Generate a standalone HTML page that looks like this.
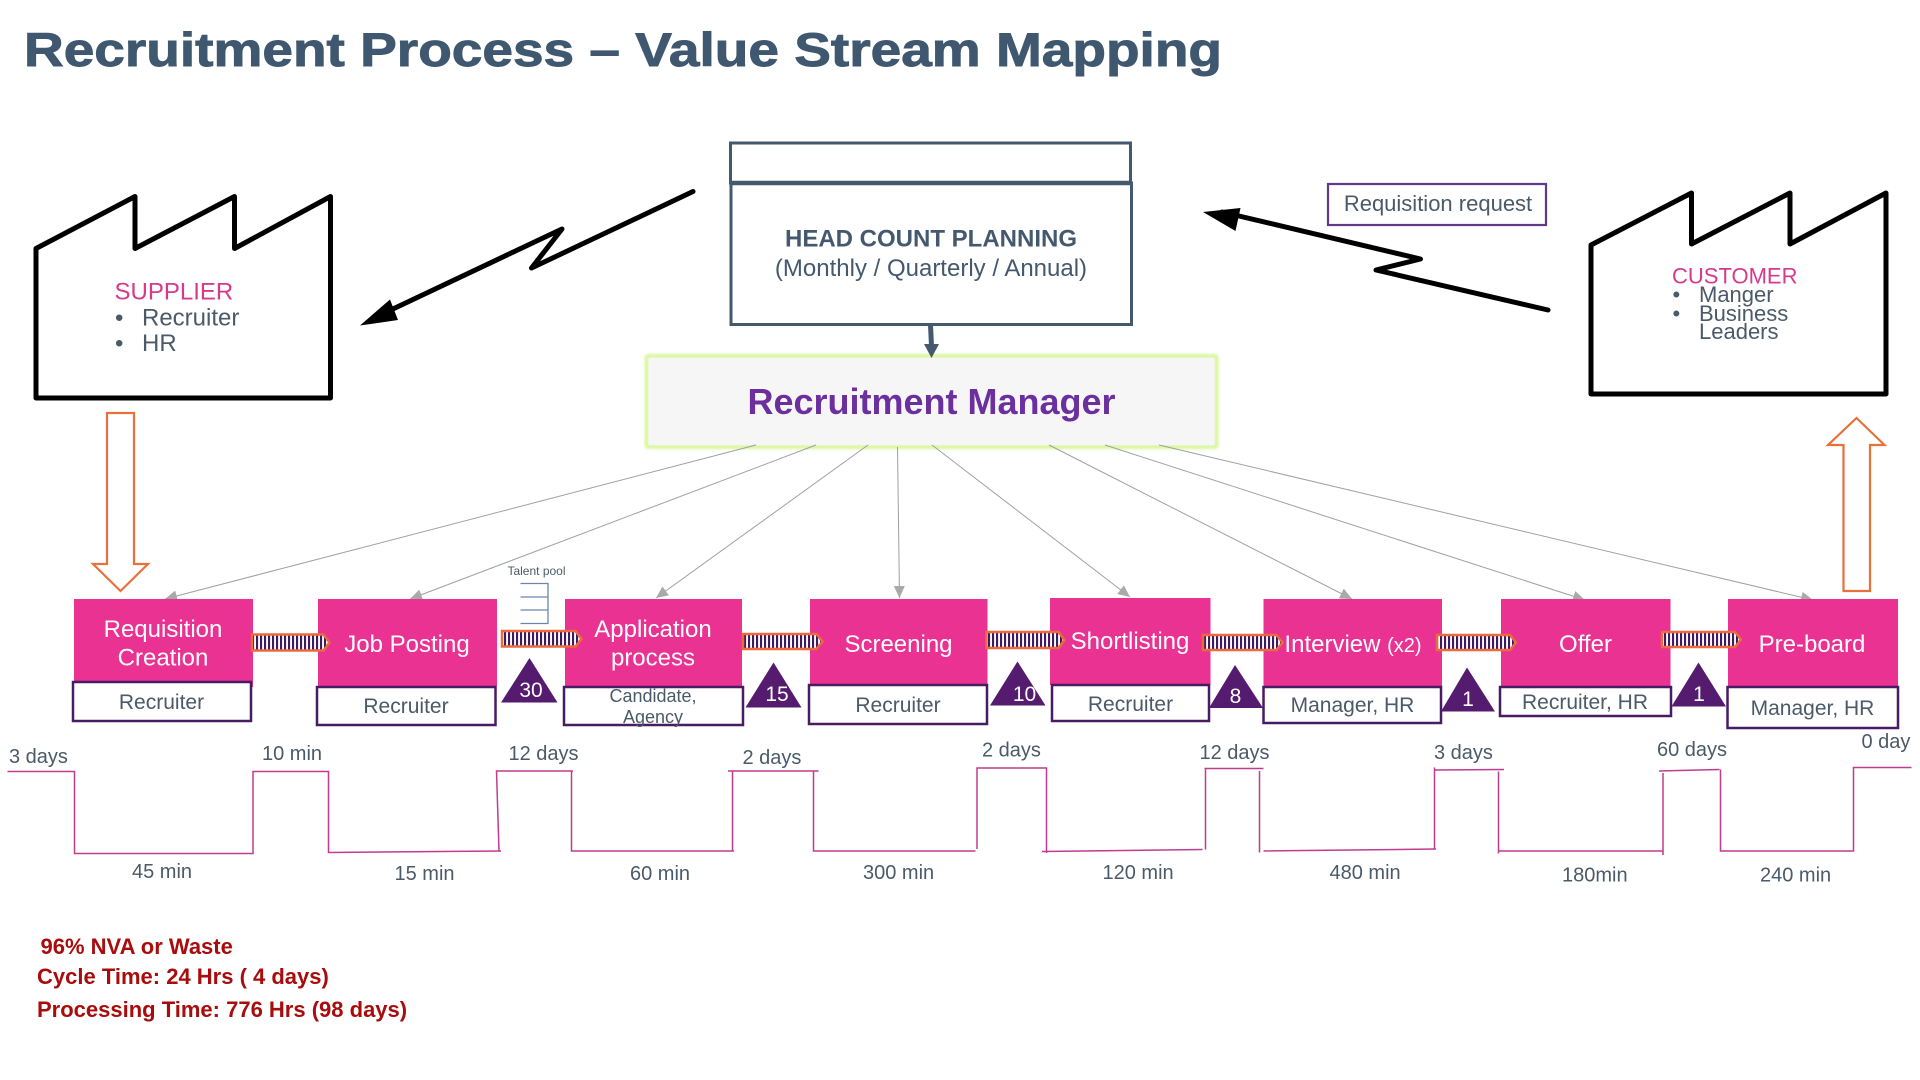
<!DOCTYPE html>
<html lang="en">
<head>
<meta charset="utf-8">
<title>Recruitment Process – Value Stream Mapping</title>
<style>
html,body{margin:0;padding:0;background:#fff;width:1920px;height:1080px;overflow:hidden}
svg{display:block;font-family:"Liberation Sans",Arial,sans-serif}
.f{fill:none;stroke:#000;stroke-width:5;stroke-linejoin:round;stroke-linecap:round}
.bolt{fill:none;stroke:#000;stroke-width:5;stroke-linejoin:round;stroke-linecap:round}
.g{stroke:#a0a0a0;stroke-width:1;fill:none;marker-end:url(#gh)}
.pink{fill:#ea3292}
.sub{fill:#fff;stroke:#471c63;stroke-width:2.5}
.pt{fill:#fff;font-size:24px;text-anchor:middle}
.st{fill:#4a5a68;font-size:21px;text-anchor:middle}
.tl{fill:#4a5a68;font-size:20px}
.push{fill:url(#st);stroke:#ec6a3c;stroke-width:2.5}
.tri{fill:#541b6e}
.tn{fill:#fff;font-size:21px;text-anchor:middle}
.o{fill:#fff;stroke:#e8703a;stroke-width:2.2}
.w{fill:none;stroke:#c03c8e;stroke-width:1.5}
.red{fill:#a80c0c;font-size:22px;font-weight:bold}
.fac{fill:#4a5a68;font-size:24px}
.cus{fill:#4a5a68;font-size:22px}
</style>
</head>
<body>
<svg width="1920" height="1080" viewBox="0 0 1920 1080" xmlns="http://www.w3.org/2000/svg">
<defs>
<pattern id="st" patternUnits="userSpaceOnUse" width="4" height="10">
<rect width="4" height="10" fill="#fff"/>
<rect width="2.1" height="10" fill="#3f1a5e"/>
</pattern>
<marker id="gh" markerUnits="userSpaceOnUse" markerWidth="14" markerHeight="12" refX="12" refY="5.5" orient="auto">
<path d="M0,0 L12,5.5 L0,11 Z" fill="#a9a9a9"/>
</marker>
<filter id="blur" x="-5%" y="-15%" width="110%" height="130%"><feGaussianBlur stdDeviation="1.3"/></filter>
</defs>

<text x="24" y="66" font-size="47" font-weight="bold" fill="#3f5870" stroke="#3f5870" stroke-width="0.9" textLength="1198" lengthAdjust="spacingAndGlyphs">Recruitment Process – Value Stream Mapping</text>

<!-- Supplier factory -->
<path class="f" d="M36,248.5 L135,196.5 L135,248.5 L234.5,196.5 L234.5,248.5 L330.5,196.5 L330.5,398 L36,398 Z"/>
<text x="114.5" y="299.5" font-size="24" fill="#d63a8c">SUPPLIER</text>
<text x="115" y="325.5" class="fac">•</text><text x="142" y="325.5" class="fac">Recruiter</text>
<text x="115" y="351" class="fac">•</text><text x="142" y="351" class="fac">HR</text>

<!-- Customer factory -->
<path class="f" d="M1591,245 L1691.5,193 L1691.5,244 L1790,193 L1790,244 L1886,193 L1886,394 L1591,394 Z"/>
<text x="1672" y="283.5" font-size="22" fill="#d63a8c">CUSTOMER</text>
<text x="1672.5" y="302" class="cus">•</text><text x="1699" y="302" class="cus">Manger</text>
<text x="1672.5" y="321" class="cus">•</text><text x="1699" y="321" class="cus">Business</text>
<text x="1699" y="339" class="cus">Leaders</text>

<!-- Head count planning -->
<rect x="730.5" y="143" width="400" height="40" fill="#fff" stroke="#44596e" stroke-width="3"/>
<rect x="731" y="183" width="400.5" height="141.5" fill="#fff" stroke="#44596e" stroke-width="3"/>
<line x1="730" y1="183" x2="1132" y2="183" stroke="#44596e" stroke-width="4.5"/>
<text x="931" y="246.5" font-size="24" font-weight="bold" fill="#44596e" text-anchor="middle">HEAD COUNT PLANNING</text>
<text x="931" y="276" font-size="24" fill="#44596e" text-anchor="middle">(Monthly / Quarterly / Annual)</text>
<line x1="930.5" y1="325" x2="931.5" y2="346" stroke="#44596e" stroke-width="5"/>

<!-- Recruitment manager -->
<rect x="646.5" y="356" width="570" height="91" rx="2" fill="#f6f6f6" stroke="#d9f79a" stroke-width="4" filter="url(#blur)"/>
<rect x="648.5" y="358" width="566" height="87" fill="#f6f6f6"/>
<path d="M924,344 L939,344 L931.5,358 Z" fill="#44596e"/>
<text x="931.5" y="414" font-size="36" font-weight="bold" fill="#6b2f9e" text-anchor="middle">Recruitment Manager</text>

<!-- Lightning arrows -->
<path class="bolt" d="M693,191.5 L531.5,268 L562,229 L378,316"/>
<path d="M360,325.5 L390,299.5 L398,320 Z" fill="#000"/>
<path class="bolt" d="M1548,310 L1376,270 L1420.5,259 L1222,212"/>
<path d="M1203,212 L1240.5,208 L1235.5,231 Z" fill="#000"/>

<!-- Requisition request -->
<rect x="1328" y="184" width="218" height="41" fill="#fff" stroke="#5f3a8a" stroke-width="2.2"/>
<text x="1438" y="211" font-size="22" fill="#4a5a68" text-anchor="middle">Requisition request</text>

<!-- Orange arrows -->
<path class="o" d="M107,413 L134,413 L134,564 L148,564 L120.5,591 L93,564 L107,564 Z"/>
<path class="o" d="M1856.5,418 L1884.5,445 L1870,445 L1870,591 L1843.5,591 L1843.5,445 L1828,445 Z"/>

<!-- Manager lines -->
<line class="g" x1="756" y1="445" x2="165" y2="599"/>
<line class="g" x1="816" y1="445" x2="410" y2="599"/>
<line class="g" x1="868" y1="445" x2="656" y2="598"/>
<line class="g" x1="897.5" y1="447" x2="899.5" y2="598"/>
<line class="g" x1="932" y1="445" x2="1130" y2="597"/>
<line class="g" x1="1049" y1="445" x2="1352" y2="599"/>
<line class="g" x1="1105" y1="445" x2="1585" y2="600"/>
<line class="g" x1="1159" y1="445" x2="1813" y2="600"/>

<!-- Talent pool -->
<text x="536.5" y="575" font-size="12" fill="#4a5a68" text-anchor="middle">Talent pool</text>
<path d="M520.5,583.5 H548 V623.5 H520.5 M520.5,597 H548 M520.5,610 H548" fill="none" stroke="#6a86ad" stroke-width="1.3"/>

<!-- Process boxes -->
<rect class="pink" x="74" y="599" width="179" height="88"/>
<rect class="pink" x="318" y="599" width="179" height="87"/>
<rect class="pink" x="565" y="599" width="177" height="87"/>
<rect class="pink" x="810" y="599" width="177.5" height="86"/>
<rect class="pink" x="1050" y="598" width="160.5" height="87"/>
<rect class="pink" x="1263.5" y="599" width="178.5" height="87"/>
<rect class="pink" x="1501" y="599" width="169.5" height="87"/>
<rect class="pink" x="1728" y="599" width="170" height="87"/>

<rect class="sub" x="73" y="682" width="178" height="39"/>
<rect class="sub" x="317" y="687" width="178.5" height="38"/>
<rect class="sub" x="564" y="687" width="179" height="38"/>
<rect class="sub" x="809" y="685" width="178" height="39"/>
<rect class="sub" x="1052" y="685" width="157" height="36"/>
<rect class="sub" x="1263.5" y="687" width="177.5" height="36"/>
<rect class="sub" x="1500" y="687" width="171" height="29"/>
<rect class="sub" x="1727.5" y="687" width="170.5" height="41"/>

<text class="pt" x="163" y="637">Requisition</text>
<text class="pt" x="163" y="665.5">Creation</text>
<text class="pt" x="407" y="652">Job Posting</text>
<text class="pt" x="653" y="637">Application</text>
<text class="pt" x="653" y="665.5">process</text>
<text class="pt" x="898.5" y="652">Screening</text>
<text class="pt" x="1130" y="649">Shortlisting</text>
<text class="pt" x="1353" y="652">Interview <tspan font-size="20">(x2)</tspan></text>
<text class="pt" x="1585.5" y="652">Offer</text>
<text class="pt" x="1812" y="652">Pre-board</text>

<text class="st" x="161.5" y="709">Recruiter</text>
<text class="st" x="406" y="713">Recruiter</text>
<text class="st" x="653" y="702" style="font-size:18px">Candidate,</text>
<text class="st" x="653" y="723" style="font-size:18px">Agency</text>
<text class="st" x="898" y="712">Recruiter</text>
<text class="st" x="1130.5" y="711">Recruiter</text>
<text class="st" x="1352.5" y="712">Manager, HR</text>
<text class="st" x="1585" y="709">Recruiter, HR</text>
<text class="st" x="1812.5" y="715">Manager, HR</text>

<!-- Push arrows -->
<path class="push" d="M252,634.5 H323.5 L329.5,642.5 L323.5,650.5 H252 Z"/>
<path class="push" d="M502,631 H575.5 L581.5,639 L575.5,646.5 H502 Z"/>
<path class="push" d="M743,634 H816.5 L822.5,641.5 L816.5,649 H743 Z"/>
<path class="push" d="M986.5,632 H1058.5 L1064.5,640 L1058.5,648 H986.5 Z"/>
<path class="push" d="M1203,635 H1276.5 L1282.5,642.5 L1276.5,650 H1203 Z"/>
<path class="push" d="M1437,635 H1510 L1516,642.5 L1510,650 H1437 Z"/>
<path class="push" d="M1662,632 H1735 L1741,639.5 L1735,647 H1662 Z"/>

<!-- Inventory triangles -->
<path class="tri" d="M529.5,658 L557.5,702.5 L501,702.5 Z"/>
<text class="tn" x="531" y="697">30</text>
<path class="tri" d="M773.5,662.5 L801.5,707.5 L745.5,707.5 Z"/>
<text class="tn" x="777" y="701">15</text>
<path class="tri" d="M1017.5,661.5 L1045.5,705.5 L990,705.5 Z"/>
<text class="tn" x="1024.5" y="701">10</text>
<path class="tri" d="M1235,665 L1263,708 L1209,708 Z"/>
<text class="tn" x="1235.5" y="703">8</text>
<path class="tri" d="M1467,667.5 L1495,711.5 L1441,711.5 Z"/>
<text class="tn" x="1468" y="706">1</text>
<path class="tri" d="M1698.5,662.5 L1726,706.5 L1671.5,706.5 Z"/>
<text class="tn" x="1699" y="701">1</text>

<!-- Timeline -->
<path class="w" d="M7.5,771.5 H74.5 V853.5 H253 V771.5 H328.5 V852.5 L501,851"/>
<path class="w" d="M499,851 L496.5,771 H573 M571.5,771 V851 H734 M732.5,851 V770.5 M728,771 H818.5 M813.5,771 V851 H975.5"/>
<path class="w" d="M977,849 V768 H1046.5 V853 M1042,851.5 L1202.5,849.5 M1205.5,849.5 V768.5 M1204.5,768.5 H1263.5"/>
<path class="w" d="M1259.5,771 V852.5 M1263.5,851 L1436,849 M1434.5,849 V767.5 M1434.5,770 L1504,769.5 M1498.5,771.5 V853.5 M1498.5,851 H1663 M1663,855 V773 M1659,771 L1719.5,769.5 M1720.5,769.5 V851 H1853.5 V767.5 H1911.5"/>

<text class="tl" x="9" y="763">3 days</text>
<text class="tl" x="262" y="760">10 min</text>
<text class="tl" x="508.5" y="760">12 days</text>
<text class="tl" x="742.5" y="764">2 days</text>
<text class="tl" x="982" y="756.5">2 days</text>
<text class="tl" x="1199.5" y="759">12 days</text>
<text class="tl" x="1434" y="759">3 days</text>
<text class="tl" x="1657" y="756">60 days</text>
<text class="tl" x="1861.5" y="748">0 day</text>
<text class="tl" x="132" y="878">45 min</text>
<text class="tl" x="394.5" y="880">15 min</text>
<text class="tl" x="630" y="880">60 min</text>
<text class="tl" x="863" y="879">300 min</text>
<text class="tl" x="1102.5" y="879">120 min</text>
<text class="tl" x="1329.5" y="879">480 min</text>
<text class="tl" x="1562" y="881.5">180min</text>
<text class="tl" x="1760" y="881.5">240 min</text>

<!-- Summary -->
<text class="red" x="40.5" y="954">96% NVA or Waste</text>
<text class="red" x="37" y="984">Cycle Time: 24 Hrs ( 4 days)</text>
<text class="red" x="37" y="1017">Processing Time: 776 Hrs (98 days)</text>
</svg>
</body>
</html>
